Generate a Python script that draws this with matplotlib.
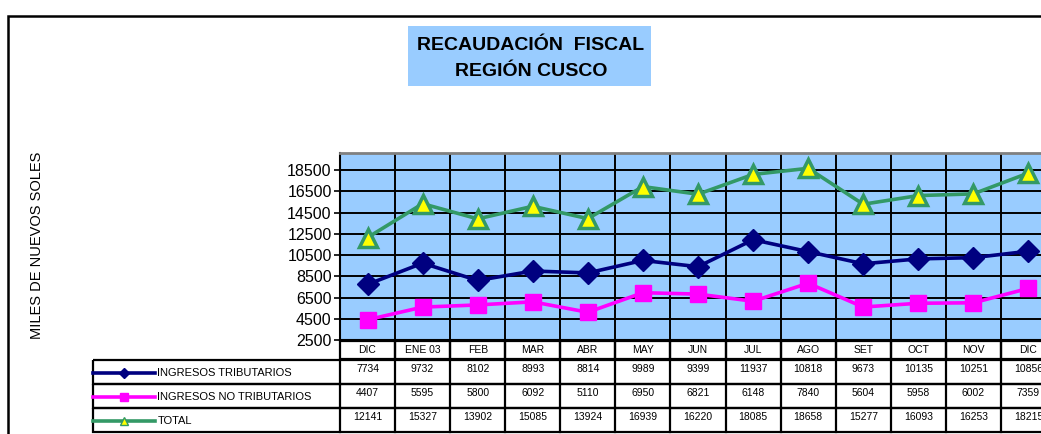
import numpy as np
import matplotlib
matplotlib.use("Agg")
import matplotlib.pyplot as plt
from matplotlib.patches import Rectangle

plt.rcParams['font.family'] = ['Liberation Sans', 'DejaVu Sans']

# data
meses = ['DIC', 'ENE 03', 'FEB', 'MAR', 'ABR', 'MAY', 'JUN', 'JUL', 'AGO', 'SET', 'OCT', 'NOV', 'DIC']
tributarios = [7734, 9732, 8102, 8993, 8814, 9989, 9399, 11937, 10818, 9673, 10135, 10251, 10856]
no_tributarios = [4407, 5595, 5800, 6092, 5110, 6950, 6821, 6148, 7840, 5604, 5958, 6002, 7359]
total = [12141, 15327, 13902, 15085, 13924, 16939, 16220, 18085, 18658, 15277, 16093, 16253, 18215]
series_names = ['INGRESOS TRIBUTARIOS', 'INGRESOS NO TRIBUTARIOS', 'TOTAL']
yticks = [2500, 4500, 6500, 8500, 10500, 12500, 14500, 16500, 18500]

W, H = 1041, 434
fig = plt.figure(figsize=(W / 100, H / 100), dpi=100)

def fx(px):
    return px / W

def fy(py):
    return 1 - py / H

# outer frame
fig.add_artist(Rectangle((fx(8), fy(600)), 1.2, fy(16) - fy(600), transform=fig.transFigure,
                         fill=False, edgecolor='black', lw=1.8))

# title
fig.add_artist(Rectangle((fx(408), fy(86)), fx(651) - fx(408), fy(26) - fy(86),
                         transform=fig.transFigure, facecolor='#99CCFF', edgecolor='none'))
fig.text(fx(531), fy(45), 'RECAUDACIÓN  FISCAL', ha='center', va='center',
         fontsize=14, fontweight='bold')
fig.text(fx(531), fy(72), 'REGIÓN CUSCO', ha='center', va='center',
         fontsize=14, fontweight='bold')

# main axes
ax = fig.add_axes([fx(340), fy(340), fx(1056) - fx(340), fy(153) - fy(340)])
ax.set_facecolor('#99CCFF')
x = np.arange(len(meses))
ax.set_xlim(-0.5, len(meses) - 0.5)
ax.set_ylim(2500, 20100)
ax.set_yticks(yticks)
ax.set_yticklabels([str(v) for v in yticks], fontsize=11.5)
ax.set_xticks(np.arange(len(meses) + 1) - 0.5)
ax.set_xticklabels([])
ax.tick_params(axis='x', length=0)
ax.tick_params(axis='y', length=4, width=1.2, pad=2)
ax.grid(True, color='black', lw=1.4)
ax.set_axisbelow(True)
for s in ['left', 'bottom']:
    ax.spines[s].set_linewidth(1.5)
ax.spines['top'].set_color('#808080')
ax.spines['top'].set_linewidth(2)
ax.spines['right'].set_visible(False)

styles = [
    dict(color='#000080', marker='D', ms=11, mfc='#000080', mec='#000080'),
    dict(color='#FF00FF', marker='s', ms=12, mfc='#FF00FF', mec='#FF00FF'),
    dict(color='#339966', marker='^', ms=13, mfc='#FFFF00', mec='#339966', mew=2.5),
]
for vals, st in zip([tributarios, no_tributarios, total], styles):
    ax.plot(x, vals, lw=2.6, zorder=3, clip_on=False, **st)

fig.text(fx(37), fy(245), 'MILES DE NUEVOS SOLES', rotation=90, ha='center', va='center',
         fontsize=10.5)

# data table below the chart, sharing x with the chart
tax = fig.add_axes([fx(340), fy(433), fx(1056) - fx(340), fy(340) - fy(433)], sharex=ax)
tax.set_ylim(433, 340)
tax.axis('off')
left = -0.5 - (340 - 93) / ((1056 - 340) / len(meses))
rows = [(360, 384), (384, 408), (408, 432)]
header = (341, 359)
kw = dict(color='black', lw=1.6, clip_on=False)

# header cells
for i, m in enumerate(meses):
    tax.add_patch(Rectangle((i - 0.5, header[0]), 1, header[1] - header[0], fill=False,
                            edgecolor='black', lw=1.6, clip_on=False))
    tax.text(i, (header[0] + header[1]) / 2, m, ha='center', va='center', fontsize=7.5)

for r, (name, vals, st) in enumerate(zip(series_names, [tributarios, no_tributarios, total], styles)):
    y0, y1 = rows[r]
    yc = (y0 + y1) / 2
    tax.add_patch(Rectangle((left, y0), len(meses) - 0.5 - left, y1 - y0, fill=False,
                            edgecolor='black', lw=1.6, clip_on=False))
    for i, v in enumerate(vals):
        tax.plot([i - 0.5, i - 0.5], [y0, y1], **kw)
        tax.text(i, yc - 3, str(v), ha='center', va='center', fontsize=7.5)
    tax.plot([left, left + 1.12], [yc + 1, yc + 1], color=st['color'], lw=2.6, clip_on=False)
    tax.plot([left + 0.56], [yc + 1], marker=st['marker'], ms=5.5, mfc=st['mfc'],
             mec=st['mec'], mew=1, clip_on=False)
    tax.text(left + 1.17, yc + 1, name, ha='left', va='center', fontsize=8)

fig.savefig('out.png', dpi=100)
